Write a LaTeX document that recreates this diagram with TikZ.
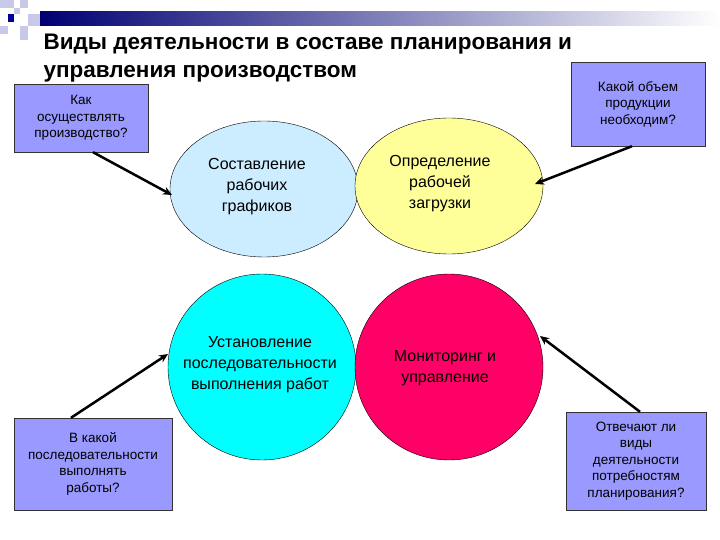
\documentclass[tikz,border=0pt]{standalone}
\usepackage{fontspec}
\setmainfont{Liberation Sans}
\usetikzlibrary{arrows.meta}
\begin{document}
\begin{tikzpicture}[x=1pt,y=-1pt,
  qbox/.style={draw=black!80,fill=qfill,align=center,font=\fontsize{13.5}{16.5}\selectfont,inner sep=0pt},
  ctext/.style={align=center,font=\fontsize{16}{21}\selectfont},
  arr/.style={line width=2.5pt,-{Stealth[length=9pt,width=8pt]}}]
\definecolor{qfill}{HTML}{9999FF}
\definecolor{sq}{HTML}{C8C8E8}
\useasboundingbox (0,0) rectangle (720,540);
% decoration
\fill[sq] (0,0) rectangle (14,8);
\fill[sq] (20,0) rectangle (28,8);
\fill[sq] (14,8) rectangle (20,14);
\fill[sq] (0,26) rectangle (8,34);
\fill[sq] (20,26) rectangle (28,40);
\fill[sq] (28,14) rectangle (40,26);
\fill[blue!60!black] (8,14) rectangle (14,22);
\shade[left color=blue!45!black, right color=white] (40,12) rectangle (720,26);
\node[anchor=west,font=\bfseries\fontsize{22.5}{28}\selectfont,align=left] (title) at (40,58)
  {Виды деятельности в составе планирования и\\управления производством};
% ellipses
\draw[fill={rgb,255:red,204;green,236;blue,255}] (264,189) ellipse (94 and 68);
\draw[fill={rgb,255:red,255;green,255;blue,153}] (449,186) ellipse (94 and 68);
\draw[fill={rgb,255:red,0;green,255;blue,255}] (262,367) ellipse (94 and 93);
\draw[fill={rgb,255:red,255;green,0;blue,102}] (449,367) ellipse (94 and 93);
\node[ctext] (c1) at (257,187) {Составление\\рабочих\\графиков};
\node[ctext] (c2) at (440,184) {Определение\\рабочей\\загрузки};
\node[ctext] (c3) at (260,365) {Установление\\последовательности\\выполнения работ};
\node[ctext] (c4) at (445,368) {Мониторинг и\\управление};
\coordinate (e1) at (172,195);
\coordinate (e2) at (535,184);
\coordinate (e3) at (168,354);
\coordinate (e4) at (540,336);
% boxes
\node[qbox,minimum width=134pt,minimum height=68pt] (q1) at (81,118) {Как\\осуществлять\\производство?};
\node[qbox,minimum width=134pt,minimum height=84pt] (q2) at (638,104) {Какой объем\\продукции\\необходим?};
\node[qbox,minimum width=158pt,minimum height=92pt] (q3) at (93,464) {В какой\\последовательности\\выполнять\\работы?};
\node[qbox,minimum width=140pt,minimum height=98pt] (q4) at (636,461) {Отвечают ли\\виды\\деятельности\\потребностям\\планирования?};
\draw[arr] (q1.south) ++(12,0) coordinate (s1) -- (e1);
\draw[arr] (q2.south) ++(-6,0) coordinate (s2) -- (e2);
\draw[arr] (q3.north) ++(-22,0) coordinate (s3) -- (e3);
\draw[arr] (q4.north) ++(4,0) coordinate (s4) -- (e4);
\end{tikzpicture}
\end{document}
